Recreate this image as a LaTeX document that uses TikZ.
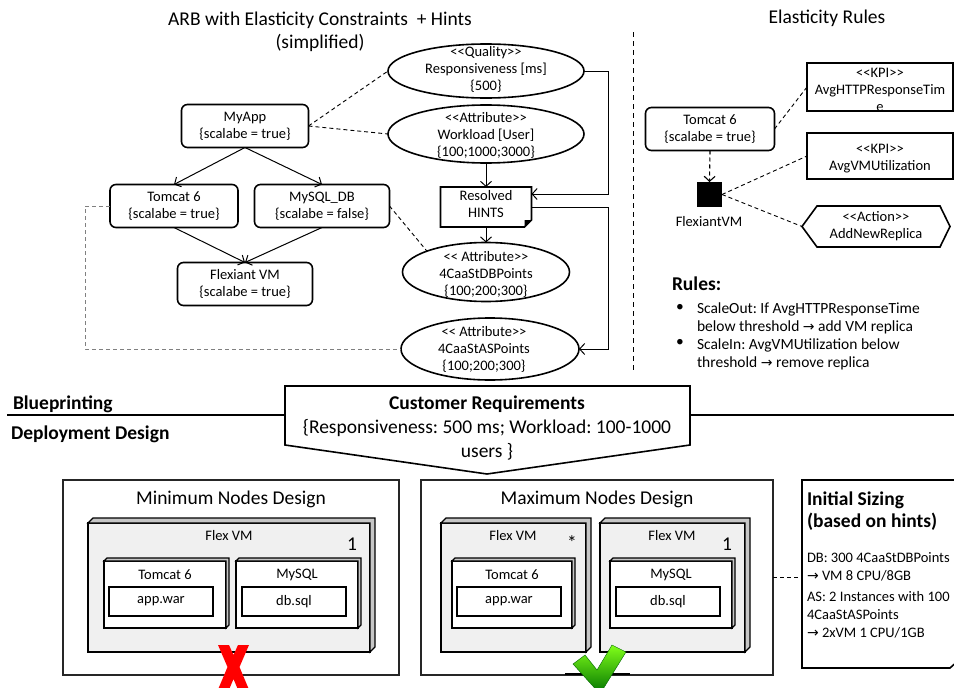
\documentclass[tikz,border=0pt]{standalone}
\usepackage{fontspec}
\setmainfont{Carlito}
\newfontfamily\dvs{DejaVu Sans}
\usetikzlibrary{arrows.meta,shapes.geometric,calc}
\frenchspacing
\newcommand\fN{\fontsize{14.5}{17}\selectfont}
\newcommand\fR{\fontsize{15.5}{18}\selectfont}
\newcommand\fB{\fontsize{19.5}{22}\selectfont}
\newcommand\rarr{{\dvs\fontsize{14}{14}\selectfont →}}
\newcommand\threed[2]{\draw[line width=1.2pt,fill=gray!45] (#1.north west) -- ++(#2,-#2) -- ([shift={(#2,-#2)}]#1.north east) -- ([shift={(#2,-#2)}]#1.south east) -- (#1.south east) -- (#1.north east) -- cycle;}
\begin{document}
\begin{tikzpicture}[x=1pt,y=-1pt,
  every node/.style={inner sep=0pt,outer sep=0pt},
  rbox/.style={draw,line width=1.6pt,rounded corners=6pt,fill=white,align=center,font=\fN,minimum height=43pt},
  ell/.style={draw,ellipse,line width=1.6pt,fill=white},
  txt/.style={align=center,font=\fN},
  arr/.style={line width=1pt,-{Straight Barb[length=5pt,width=11pt]}},
  dsh/.style={line width=0.9pt,dash pattern=on 4pt off 3pt},
  vmbox/.style={draw,line width=1.5pt,fill=gray!12},
  inbox/.style={draw,line width=1.5pt,fill=white,font=\fN},
]
\useasboundingbox (0,0) rectangle (954,688);
\clip (0,0) rectangle (954,688);

% titles
\node[font=\fB] (t1) at (320,20) {ARB with Elasticity Constraints \ + Hints};
\node[font=\fB] (t2) at (320,43) {(simplified)};
\node[font=\fB] (t3) at (827,18) {Elasticity Rules};

% separator
\draw[line width=1pt,dash pattern=on 5pt off 4pt] (633,32) -- (633,373);

% left graph
\node[rbox,minimum width=127pt] (myapp) at (245,126) {MyApp\\\{scalabe = true\}};
\node[rbox,minimum width=128pt] (tomcat) at (174,206) {Tomcat 6\\\{scalabe = true\}};
\node[rbox,minimum width=135pt] (mysql) at (322,206) {MySQL\_DB\\\{scalabe = false\}};
\node[rbox,minimum width=135pt] (flex) at (245,284) {Flexiant VM\\\{scalabe = true\}};

\node[ell,minimum width=196pt,minimum height=54pt] (qual) at (486,71) {};
\node[txt] (qualT) at (486,69) {<{}<Quality>{}>\\Responsiveness [ms]\\\{500\}};
\node[ell,minimum width=196pt,minimum height=58pt] (work) at (486,134) {};
\node[txt] (workT) at (486,135) {<{}<Attribute>{}>\\Workload [User]\\\{100;1000;3000\}};
\node[minimum width=91pt,minimum height=40pt] (hints) at (486,207) {};
\draw[line width=1.6pt,fill=white] (hints.north west) -- (hints.north east) -- ([yshift=7pt]hints.south east) -- ([xshift=-7pt]hints.south east) -- (hints.south west) -- cycle;
\fill ([yshift=7pt]hints.south east) -- ([xshift=-7pt]hints.south east) -- ([xshift=-7pt,yshift=7pt]hints.south east) -- cycle;
\node[txt] (hintsT) at (486,204) {Resolved\\HINTS};
\node[ell,minimum width=167pt,minimum height=59pt] (db) at (486,272) {};
\node[txt] (dbT) at (486,274) {<{}< Attribute>{}>\\4CaaStDBPoints\\\{100;200;300\}};
\node[ell,minimum width=178pt,minimum height=62pt] (as) at (490,349) {};
\node[txt] (asT) at (484,349) {<{}< Attribute>{}>\\4CaaStASPoints\\\{100;200;300\}};

\draw[arr] (myapp.south) -- (tomcat.north);
\draw[arr] (myapp.south) -- (mysql.north);
\draw[arr] (tomcat.south) -- (flex.north);
\draw[arr] (mysql.south) -- (flex.north);
\draw[arr] (work.south) -- (hints.north);
\draw[arr] (hints.south) -- (db.north);
\coordinate (c1) at (608,194);
\coordinate (c2) at (608,349);
\draw[arr] (qual.east) -| (c1) -- (c1 -| hints.east);
\draw[arr] (hints.east) -| (c2) -- (as.east);

\draw[dsh] (myapp.east) -- (qual.west);
\draw[dsh] (myapp.east) -- (work.west);
\draw[dsh] (mysql.east) -- (db.north west);
\coordinate (c3) at (85,349);
\draw[dsh,gray] (tomcat.west) -| (c3) -- (as.west);

% right part
\node[rbox,minimum width=129pt] (tomR) at (710,129) {Tomcat 6\\\{scalabe = true\}};
\node[draw,line width=1.6pt,fill=white,minimum width=146pt,minimum height=48pt] (kpi1) at (880,87) {};
\node[txt] (kpi1T) at (880,90) {<{}<KPI>{}>\\AvgHTTPResponseTim\\e};
\node[draw,line width=1.6pt,fill=white,minimum width=146pt,minimum height=46pt] (kpi2) at (880,156) {};
\node[txt] (kpi2T) at (880,159) {<{}<KPI>{}>\\AvgVMUtilization};
\node[minimum width=123pt,minimum height=41pt] (act) at (878.5,226.5) {};
\coordinate (actL) at ([xshift=-15pt]act.west);
\draw[line width=1.6pt,fill=white] (act.north west) -- (act.north east) -- ([xshift=10pt]act.east) -- (act.south east) -- (act.south west) -- (actL) -- cycle;
\node[txt] (actT) at (876,226) {<{}<Action>{}>\\AddNewReplica};
\node[fill=black,minimum size=25pt] (sq) at (709.5,194.5) {};
\node[font=\fN] (sqL) at (709,222) {FlexiantVM};
\draw[dsh,line width=1.1pt,-{Straight Barb[length=5pt,width=11pt]}] (tomR.south) -- (sq.north);
\draw[dsh] (tomR.east) -- (kpi1.west);
\draw[dsh] (sq.east) -- (kpi2.west);
\draw[dsh] (sq.east) -- (actL);

\node[font=\bfseries\fB,anchor=base west] (rulesH) at (672,290) {Rules:};
\node[font=\fR] (bul1) at (680,308) {\textbullet};
\node[font=\fR,anchor=base west] (r1) at (697,313) {ScaleOut: If AvgHTTPResponseTime};
\node[font=\fR,anchor=base west] (r2) at (697,331) {below threshold \rarr\ add VM replica};
\node[font=\fR] (bul2) at (680,343) {\textbullet};
\node[font=\fR,anchor=base west] (r3) at (697,349) {ScaleIn: AvgVMUtilization below};
\node[font=\fR,anchor=base west] (r4) at (697,367) {threshold \rarr\ remove replica};

% blueprint divider
\draw[line width=1.8pt] (7,415) -- (954,415);
\node[font=\bfseries\fB,anchor=base west] (bp) at (13,409) {Blueprinting};
\node[font=\bfseries\fB,anchor=base west] (dd) at (11,439) {Deployment Design};

\node[minimum width=405pt,minimum height=59pt] (cr) at (487.5,415.5) {};
\coordinate (tip) at (487,474);
\draw[line width=1.6pt,fill=white] (cr.north west) -- (cr.north east) -- (cr.south east) -- (tip) -- (cr.south west) -- cycle;
\node[font=\bfseries\fB,anchor=base] (crT1) at (487,409) {Customer Requirements};
\node[font=\fB,anchor=base] (crT2) at (487,433) {\{Responsiveness: 500 ms; Workload: 100-1000};
\node[font=\fB,anchor=base] (crT3) at (487,457) {users \}};

% minimum nodes design
\node[draw=black!85,line width=1.1pt,minimum width=336pt,minimum height=195pt] (minD) at (231,577.5) {};
\node[font=\fB,anchor=base] (minT) at (231,504) {Minimum Nodes Design};
\node[vmbox,minimum width=282pt,minimum height=129pt] (vm1) at (229,587.5) {};
\threed{vm1}{5}
\node[font=\fN] (vm1T) at (229,536) {Flex VM};
\node[font=\fB] (vm1n) at (352,544) {1};
\node[inbox,minimum width=122pt,minimum height=67pt] (tc1) at (165,594.5) {};
\threed{tc1}{3}
\node[font=\fN] (tc1T) at (165,575) {Tomcat 6};
\node[inbox,minimum width=104pt,minimum height=29pt] (aw1) at (161,601.5) {app.war};
\node[inbox,minimum width=122pt,minimum height=67pt] (ms1) at (297,594.5) {};
\threed{ms1}{3}
\node[font=\fN] (ms1T) at (297,575) {MySQL};
\node[inbox,minimum width=104pt,minimum height=29pt] (ds1) at (294,601.5) {db.sql};

% maximum nodes design
\node[draw=black!85,line width=1.1pt,minimum width=352pt,minimum height=195pt] (maxD) at (597,577.5) {};
\node[font=\fB,anchor=base] (maxT) at (597,504) {Maximum Nodes Design};
\node[vmbox,minimum width=145pt,minimum height=129pt] (vm2) at (513.5,587.5) {};
\threed{vm2}{5}
\node[font=\fN] (vm2T) at (513,536) {Flex VM};
\node[font=\fB] (vm2s) at (572,543) {*};
\node[inbox,minimum width=120pt,minimum height=67pt] (tc2) at (512,594.5) {};
\threed{tc2}{3}
\node[font=\fN] (tc2T) at (512,575) {Tomcat 6};
\node[inbox,minimum width=104pt,minimum height=29pt] (aw2) at (509,601.5) {app.war};
\node[vmbox,minimum width=145pt,minimum height=129pt] (vm3) at (672.5,587.5) {};
\threed{vm3}{5}
\node[font=\fN] (vm3T) at (672,536) {Flex VM};
\node[font=\fB] (vm3n) at (727,544) {1};
\node[inbox,minimum width=122pt,minimum height=67pt] (ms2) at (671,594.5) {};
\threed{ms2}{3}
\node[font=\fN] (ms2T) at (671,575) {MySQL};
\node[inbox,minimum width=104pt,minimum height=29pt] (ds2) at (668,601.5) {db.sql};

% initial sizing
\node[minimum width=166pt,minimum height=188pt] (sz) at (885,574) {};
\draw[line width=1.6pt,fill=white] (sz.north west) -- (sz.north east) -- ([yshift=16pt]sz.south east) -- ([xshift=-18pt]sz.south east) -- (sz.south west) -- cycle;
\draw[dsh] (maxD.east) -- (sz.west |- maxD.east);
\node[font=\bfseries\fB,anchor=base west] (szT1) at (807,505) {Initial Sizing};
\node[font=\bfseries\fB,anchor=base west] (szT2) at (807,527) {(based on hints)};
\node[font=\fN,anchor=base west] (szA) at (807,562) {DB: 300 4CaaStDBPoints};
\node[font=\fN,anchor=base west] (szB) at (807,580) {\rarr\ VM 8 CPU/8GB};
\node[font=\fN,anchor=base west] (szC) at (807,601) {AS: 2 Instances with 100};
\node[font=\fN,anchor=base west] (szD) at (807,619) {4CaaStASPoints};
\node[font=\fN,anchor=base west] (szE) at (807,637) {\rarr\ 2xVM 1 CPU/1GB};

% verdict marks
\fill[red] (218,645) -- (229,645) -- (233.5,655) -- (238,645) -- (249,645) -- (239.5,667) -- (250,692) -- (239,692) -- (233.5,679) -- (228,692) -- (217,692) -- (227.5,667) -- cycle;
\draw[line width=2.5pt] (565,674) -- (630,674);
\shade[top color=green!55!yellow!90!white,bottom color=green!45!black,draw=green!40!black,line width=0.4pt]
  (573,664) -- (585,655) -- (597,670) -- (612,645) -- (626,652) -- (600,694) -- cycle;
\end{tikzpicture}
\end{document}
